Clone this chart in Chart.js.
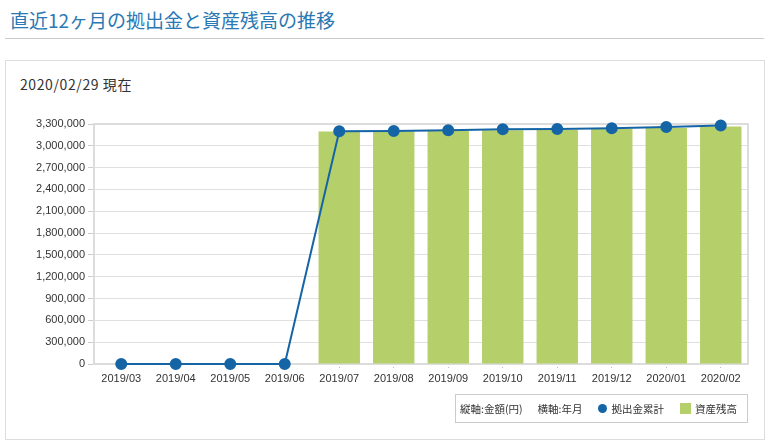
<!doctype html>
<html lang="ja">
<head>
  <meta charset="UTF-8">
  <title>直近12ヶ月の拠出金と資産残高の推移</title>
  <script src="https://cdn.jsdelivr.net/npm/chart.js@4/dist/chart.umd.min.js"></script>
  <style>
    body { margin: 0; background: #fff; font-family: "Noto Sans CJK JP", "Liberation Sans", sans-serif; }
    h1 { position: absolute; left: 10px; top: 6px; margin: 0; font-size: 19px; font-weight: normal; color: #2a78b4; }
    .rule { position: absolute; left: 5px; top: 38px; width: 759px; border-top: 1px solid #ccc; }
    .panel { position: absolute; left: 5px; top: 60px; width: 758px; height: 378px; border: 1px solid #ddd; }
    .date { position: absolute; left: 20px; top: 74px; font-size: 14px; letter-spacing: 0.6px; color: #333; }
    #wrap { position: absolute; left: 8px; top: 110px; width: 750px; height: 285px; }
    .legend { position: absolute; left: 455px; top: 394px; width: 293px; height: 29px; border: 1px solid #ccc; box-sizing: border-box;
      font-size: 10.5px; color: #333; display: flex; align-items: center; justify-content: flex-end; padding-right: 10px; white-space: nowrap; }
    .legend span { display: inline-flex; align-items: center; flex-shrink: 0; white-space: nowrap; }
    .dot { width: 9px; height: 9px; border-radius: 50%; background: #1565a6; margin-right: 5px; flex-shrink: 0; }
    .sq { width: 11px; height: 11px; background: #b5cf6b; margin-right: 4px; flex-shrink: 0; }
  </style>
</head>
<body>
  <h1>直近12ヶ月の拠出金と資産残高の推移</h1>
  <div class="rule"></div>
  <div class="panel"></div>
  <div class="date">2020/02/29 現在</div>
  <div id="wrap"><canvas id="canvas"></canvas></div>
  <div class="legend">
    <span>縦軸:金額(円)</span>
    <span style="margin-left:15px">横軸:年月</span>
    <span style="margin-left:15px"><i class="dot"></i>拠出金累計</span>
    <span style="margin-left:16px"><i class="sq"></i>資産残高</span>
  </div>
  <script>
    var months = ['2019/03', '2019/04', '2019/05', '2019/06', '2019/07', '2019/08',
                  '2019/09', '2019/10', '2019/11', '2019/12', '2020/01', '2020/02'];
    var contributions = [0, 0, 0, 0, 3200000, 3205000, 3215000, 3228000, 3230000, 3242000, 3260000, 3280000];
    var balances = [0, 0, 0, 0, 3198000, 3200000, 3207000, 3215000, 3220000, 3230000, 3245000, 3265000];
    var yTicks = { min: 0, max: 3300000, step: 300000 };

    // light grey frame round the plot area, drawn under the series
    var plotBorder = {
      id: 'plotBorder',
      beforeDatasetsDraw: function (chart) {
        var a = chart.chartArea, ctx = chart.ctx;
        ctx.save();
        ctx.strokeStyle = '#dcdcdc';
        ctx.lineWidth = 2;
        ctx.strokeRect(a.left, a.top, a.right - a.left, a.bottom - a.top);
        ctx.restore();
      }
    };

    Chart.defaults.font.family = '"Liberation Sans", Arial, sans-serif';
    Chart.defaults.font.size = 11;
    Chart.defaults.color = '#333';

    new Chart(document.getElementById('canvas'), {
      type: 'bar',
      data: {
        labels: months,
        datasets: [
          {
            type: 'line',
            label: '拠出金累計',
            data: contributions,
            borderColor: '#1565a6',
            backgroundColor: '#1565a6',
            borderWidth: 2,
            pointRadius: 5,
            pointHoverRadius: 5,
            tension: 0,
            clip: false,
            order: 1
          },
          {
            type: 'bar',
            label: '資産残高',
            data: balances,
            backgroundColor: '#b5cf6b',
            barPercentage: 0.76,
            categoryPercentage: 1,
            order: 2
          }
        ]
      },
      plugins: [plotBorder],
      options: {
        responsive: true,
        maintainAspectRatio: false,
        animation: false,
        layout: { padding: { left: 0, right: 10, top: 14, bottom: 0 } },
        plugins: { legend: { display: false }, tooltip: { enabled: false } },
        scales: {
          x: {
            afterFit: function (s) { s.height = 31; },
            grid: { drawOnChartArea: false, drawTicks: true, tickLength: 5, offset: false,
                    tickColor: '#bbb', tickBorderDash: [1, 2] },
            border: { display: false },
            ticks: { padding: 3, maxRotation: 0, autoSkip: false }
          },
          y: {
            min: yTicks.min,
            max: yTicks.max,
            afterFit: function (s) { s.width = 86; },
            grid: { color: '#e0e0e0', tickLength: 6, tickColor: '#ccc' },
            border: { display: false },
            ticks: {
              stepSize: yTicks.step,
              padding: 3,
              callback: function (v) { return v.toLocaleString('en-US'); }
            }
          }
        }
      }
    });
  </script>
</body>
</html>
